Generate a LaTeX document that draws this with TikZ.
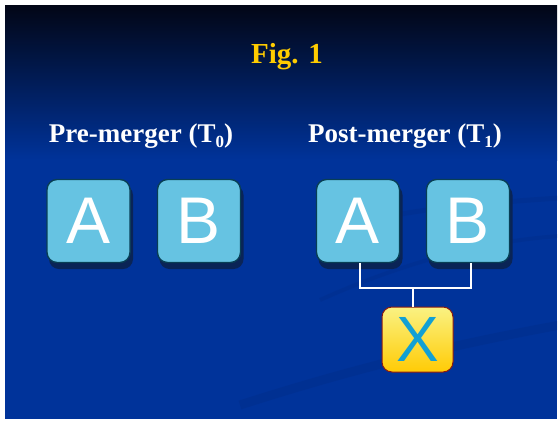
\documentclass[tikz,border=0pt]{standalone}
\usepackage{fontspec}
\setmainfont{Liberation Serif}
\newfontfamily\sansf{Liberation Sans}
\definecolor{slidetop}{HTML}{020616}
\definecolor{slideblue}{HTML}{00339A}
\definecolor{boxfill}{HTML}{66C3E2}
\definecolor{boxline}{HTML}{083E55}
\definecolor{boxshadow}{HTML}{0A2456}
\definecolor{gold}{HTML}{FFCC00}
\definecolor{xtop}{HTML}{FAF283}
\definecolor{xbot}{HTML}{FFCB05}
\definecolor{xline}{HTML}{8B1A10}
\definecolor{xletter}{HTML}{12A0D4}
\definecolor{swoosh}{HTML}{002C85}
\begin{document}
\begin{tikzpicture}[x=1pt,y=-1pt,
  entity/.style={draw=boxline,line width=1.4pt,fill=boxfill,rounded corners=10pt,
    minimum width=83pt,minimum height=83pt,inner sep=0pt,text=white,
    font=\sansf\fontsize{66}{66}\selectfont},
  result/.style={draw=xline,line width=1pt,top color=xtop,bottom color=xbot,rounded corners=10pt,
    minimum width=71pt,minimum height=65pt,inner sep=0pt,text=xletter,
    font=\sansf\fontsize{64}{64}\selectfont},
  heading/.style={text=white,font=\bfseries\fontsize{27}{27}\selectfont,inner sep=0pt},
  link/.style={draw=white,line width=1.6pt}]
\useasboundingbox (0,0) rectangle (559,421);
\fill[white] (0,0) rectangle (559,421);
% background
\fill[slideblue] (5,5) rectangle (557,419);
\shade[top color=slidetop,bottom color=slideblue] (5,5) rectangle (557,160);
% decorative swoosh
\begin{scope}
\clip (5,5) rectangle (557,419);
\draw[swoosh,line width=9pt,opacity=0.35] (240,405) .. controls (380,360) and (480,340) .. (560,325);
\draw[swoosh,line width=5pt,opacity=0.3] (330,236) .. controls (360,215) and (450,205) .. (560,198);
\draw[swoosh,line width=4pt,opacity=0.3] (320,300) .. controls (420,255) and (500,240) .. (560,236);
\end{scope}
% title
\node[text=gold,font=\bfseries\fontsize{29}{29}\selectfont,inner sep=0pt] (title) at (287,57) {Fig. 1};
\node[heading] (pre) at (141,136) {Pre-merger (T\raisebox{-0.45ex}{\fontsize{17}{17}\selectfont 0})};
\node[heading] (post) at (405,136) {Post-merger (T\raisebox{-0.45ex}{\fontsize{17}{17}\selectfont 1})};
% shadows
\foreach \cx in {88.5,199,358,468}
  \fill[boxshadow,rounded corners=10pt] (\cx-39.5,224.5-39.5) rectangle (\cx+44.5,224.5+44.5);
% boxes
\node[entity] (a0) at (88.5,221) {A};
\node[entity] (b0) at (199,221) {B};
\node[entity] (a1) at (358,221) {A};
\node[entity] (b1) at (468,221) {B};
\node[result] (x) at (417.5,339.5) {X};
% connectors
\coordinate (j) at (413,288);
\draw[link] (a1.south -| 360,0) |- (j) -| (b1.south -| 471,0);
\draw[link] (j) -- (j |- x.north);
\end{tikzpicture}
\end{document}
